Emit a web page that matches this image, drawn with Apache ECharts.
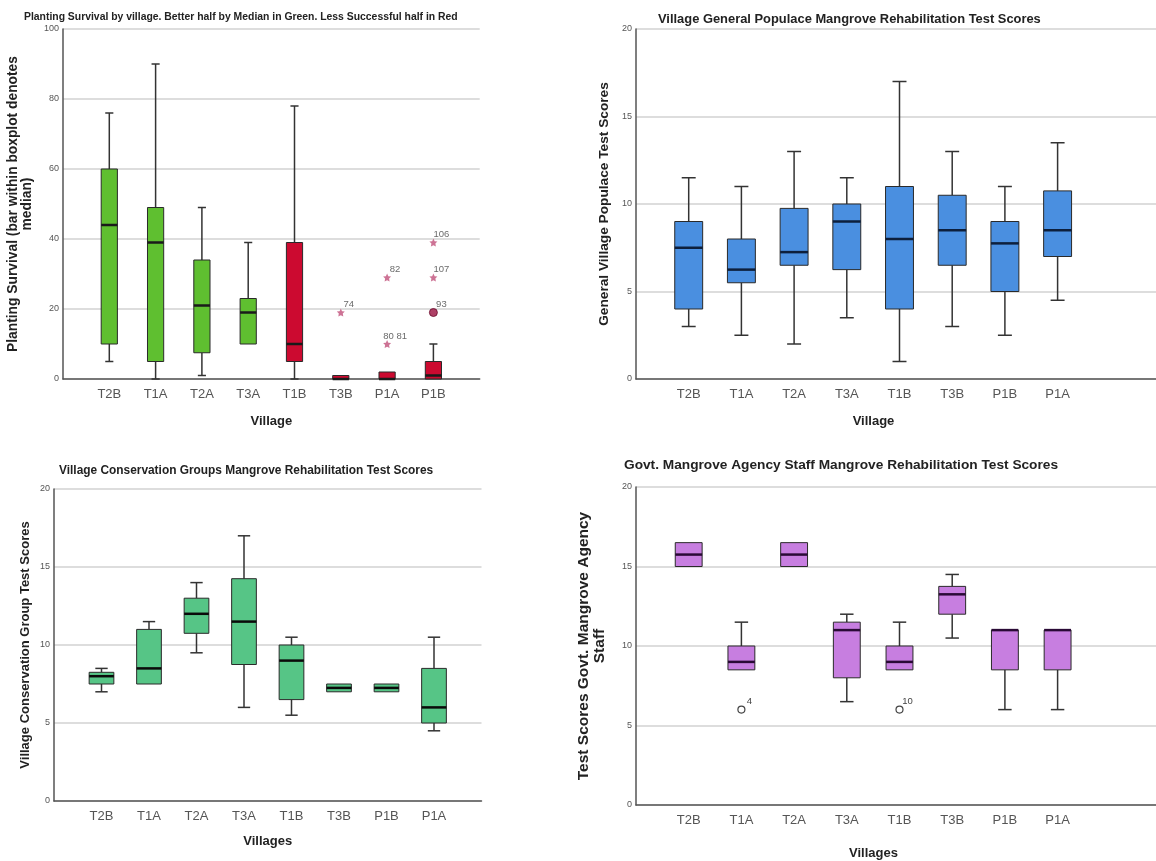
<!DOCTYPE html>
<html>
<head>
<meta charset="utf-8">
<script src="https://cdn.jsdelivr.net/npm/echarts@6/dist/echarts.min.js"></script>
<style>
html,body{margin:0;padding:0;background:#fff;}
#chart{width:1156px;height:861px;}
</style>
</head>
<body>
<div id="chart"></div>
<script>
// ---------- DATA ----------
// Panel 1: Planting survival  [min, Q1, median, Q3, max]
const survivalVillages = ['T2B','T1A','T2A','T3A','T1B','T3B','P1A','P1B'];
const survivalStats = [
  [5, 10, 44, 60, 76],
  [0, 5, 39, 49, 90],
  [1, 7.5, 21, 34, 49],
  [10, 10, 19, 23, 39],
  [0, 5, 10, 39, 78],
  [0, 0, 0, 1, 1],
  [0, 0, 0, 2, 2],
  [0, 0, 1, 5, 10]
];
const survivalHalf = ['better','better','better','better','less','less','less','less'];
// [village, value, case label, marker]
const survivalOutliers = [
  ['T3B', 19, '74', 'star'],
  ['P1A', 29, '82', 'star'],
  ['P1A', 10, '80 81', 'star'],
  ['P1B', 39, '106', 'star'],
  ['P1B', 29, '107', 'star'],
  ['P1B', 19, '93', 'circle']
];
const survivalTicks = [0, 20, 40, 60, 80, 100];

// Panel 2: General populace test scores
const populaceVillages = ['T2B','T1A','T2A','T3A','T1B','T3B','P1B','P1A'];
const populaceStats = [
  [3, 4, 7.5, 9, 11.5],
  [2.5, 5.5, 6.25, 8, 11],
  [2, 6.5, 7.25, 9.75, 13],
  [3.5, 6.25, 9, 10, 11.5],
  [1, 4, 8, 11, 17],
  [3, 6.5, 8.5, 10.5, 13],
  [2.5, 5, 7.75, 9, 11],
  [4.5, 7, 8.5, 10.75, 13.5]
];

// Panel 3: Conservation groups test scores
const groupVillages = ['T2B','T1A','T2A','T3A','T1B','T3B','P1B','P1A'];
const groupStats = [
  [7, 7.5, 8, 8.25, 8.5],
  [7.5, 7.5, 8.5, 11, 11.5],
  [9.5, 10.75, 12, 13, 14],
  [6, 8.75, 11.5, 14.25, 17],
  [5.5, 6.5, 9, 10, 10.5],
  [7, 7, 7.25, 7.5, 7.5],
  [7, 7, 7.25, 7.5, 7.5],
  [4.5, 5, 6, 8.5, 10.5]
];

// Panel 4: Govt. agency staff test scores
const staffVillages = ['T2B','T1A','T2A','T3A','T1B','T3B','P1B','P1A'];
const staffStats = [
  [15, 15, 15.75, 16.5, 16.5],
  [8.5, 8.5, 9, 10, 11.5],
  [15, 15, 15.75, 16.5, 16.5],
  [6.5, 8, 11, 11.5, 12],
  [8.5, 8.5, 9, 10, 11.5],
  [10.5, 12, 13.25, 13.75, 14.5],
  [6, 8.5, 11, 11, 11],
  [6, 8.5, 11, 11, 11]
];
const staffOutliers = [
  ['T1A', 6, '4'],
  ['T1B', 6, '10']
];
const scoreTicks = [0, 5, 10, 15, 20];

// ---------- CHART ----------
const FONT = '"Liberation Sans", Arial, sans-serif';
const STAR = 'path://M0,-10 L2.9,-4 L9.5,-3.1 L4.7,1.5 L5.9,8.1 L0,5 L-5.9,8.1 L-4.7,1.5 L-9.5,-3.1 L-2.9,-4 Z';

function padCats(cats, right) {
  const out = [''];
  cats.forEach(c => out.push(c));
  for (let i = 0; i < right; i++) out.push(' '.repeat(i + 1));
  return out;
}

function boxSeries(gi, stats, colorOf, medianColor, frac) {
  return {
    type: 'custom',
    xAxisIndex: gi, yAxisIndex: gi,
    encode: {x: 0, y: [1, 2, 3, 4, 5]},
    data: stats.map((s, i) => [i + 1].concat(s)),
    renderItem: function (params, api) {
      const x = api.value(0);
      const mn = api.value(1), q1 = api.value(2), md = api.value(3), q3 = api.value(4), mx = api.value(5);
      const band = api.size([1, 0])[0];
      const bw = band * frac, cw = bw / 2;
      const cx = api.coord([x, md])[0];
      const y = v => api.coord([x, v])[1];
      const wStyle = {stroke: '#333', lineWidth: 1.5};
      const ch = [];
      if (mx > q3) {
        ch.push({type: 'line', shape: {x1: cx, y1: y(q3), x2: cx, y2: y(mx)}, style: wStyle});
        ch.push({type: 'line', shape: {x1: cx - cw / 2, y1: y(mx), x2: cx + cw / 2, y2: y(mx)}, style: wStyle});
      }
      if (mn < q1) {
        ch.push({type: 'line', shape: {x1: cx, y1: y(q1), x2: cx, y2: y(mn)}, style: wStyle});
        ch.push({type: 'line', shape: {x1: cx - cw / 2, y1: y(mn), x2: cx + cw / 2, y2: y(mn)}, style: wStyle});
      }
      ch.push({type: 'rect', shape: {x: cx - bw / 2, y: y(q3), width: bw, height: y(q1) - y(q3)},
        style: {fill: colorOf(params.dataIndex), stroke: '#2a2a2a', lineWidth: 1}});
      ch.push({type: 'line', shape: {x1: cx - bw / 2, y1: y(md), x2: cx + bw / 2, y2: y(md)},
        style: {stroke: medianColor, lineWidth: 2.5}});
      return {type: 'group', children: ch};
    }
  };
}

function xAxisCfg(gi, cats, right, maxIdx, nameShift, nameGap) {
  const cfg = {
    type: 'category', gridIndex: gi, data: padCats(cats, right), boundaryGap: false,
    axisLine: {lineStyle: {color: '#555', width: 1.5}},
    axisTick: {show: false},
    axisLabel: {color: '#555', fontSize: 13, fontFamily: FONT, margin: 9, interval: 0},
    splitLine: {show: false},
    name: gi === 0 || gi === 1 ? 'Village' : 'Villages',
    nameLocation: 'middle', nameGap: nameGap,
    nameTextStyle: {color: '#222', fontSize: 13, fontWeight: 'bold', fontFamily: FONT, padding: [0, nameShift, 0, 0]}
  };
  if (maxIdx !== null) { cfg.min = 0; cfg.max = maxIdx; }
  return cfg;
}

function yAxisCfg(gi, ticks, name, gap, fs) {
  return {
    type: 'value', gridIndex: gi, min: ticks[0], max: ticks[ticks.length - 1], interval: ticks[1] - ticks[0],
    axisLine: {show: true, lineStyle: {color: '#555', width: 1.5}},
    axisTick: {show: false},
    axisLabel: {color: '#555', fontSize: 9, fontFamily: FONT, margin: 4},
    splitLine: {lineStyle: {color: '#d2d2d2', width: 1.5}},
    name: name, nameLocation: 'middle', nameGap: gap,
    nameTextStyle: {color: '#222', fontSize: fs, fontWeight: 'bold', fontFamily: FONT, lineHeight: fs + 1}
  };
}

const survivalIdx = v => survivalVillages.indexOf(v) + 1;
const staffIdx = v => staffVillages.indexOf(v) + 1;
const titleStyle = fs => ({fontSize: fs, fontWeight: 'bold', color: '#222', fontFamily: FONT});

const option = {
  backgroundColor: '#fff',
  animation: false,
  title: [
    {text: 'Planting Survival by village. Better half by Median in Green. Less Successful half in Red',
      left: 24, top: 12, padding: 0, textStyle: titleStyle(10.4)},
    {text: 'Village General Populace Mangrove Rehabilitation Test Scores',
      left: 658, top: 13, padding: 0, textStyle: titleStyle(12.9)},
    {text: 'Village Conservation Groups Mangrove Rehabilitation Test Scores',
      left: 59, top: 465, padding: 0, textStyle: titleStyle(11.9)},
    {text: 'Govt. Mangrove Agency Staff Mangrove Rehabilitation Test Scores',
      left: 624, top: 458, padding: 0, textStyle: titleStyle(13.7)}
  ],
  grid: [
    {left: 63, top: 29, width: 9 * 46.3, height: 350, outerBoundsMode: 'none', containLabel: false},
    {left: 636, top: 29, width: 10 * 52.7, height: 350, outerBoundsMode: 'none', containLabel: false},
    {left: 54, top: 489, width: 9 * 47.5, height: 312, outerBoundsMode: 'none', containLabel: false},
    {left: 636, top: 487, width: 10 * 52.7, height: 318, outerBoundsMode: 'none', containLabel: false}
  ],
  xAxis: [
    xAxisCfg(0, survivalVillages, 1, null, 0, 36),
    xAxisCfg(1, populaceVillages, 2, null, 52, 36),
    xAxisCfg(2, groupVillages, 1, null, 0, 34),
    xAxisCfg(3, staffVillages, 2, null, 52, 42)
  ],
  yAxis: [
    yAxisCfg(0, survivalTicks, 'Planting Survival (bar within boxplot denotes\nmedian)', 28, 13.8),
    yAxisCfg(1, scoreTicks, 'General Village Populace Test Scores', 24, 13.7),
    yAxisCfg(2, scoreTicks, 'Village Conservation Group Test Scores', 22, 13),
    yAxisCfg(3, scoreTicks, 'Test Scores Govt. Mangrove Agency\nStaff', 28, 15.5)
  ],
  series: [
    boxSeries(0, survivalStats, i => survivalHalf[i] === 'better' ? '#5fbf30' : '#cc0a30', '#1a1a1a', 0.35),
    boxSeries(1, populaceStats, () => '#4a8fe0', '#0d1f3c', 0.53),
    boxSeries(2, groupStats, () => '#56c586', '#0a0a0a', 0.52),
    boxSeries(3, staffStats, () => '#c77ee0', '#2a0a36', 0.51),
    {
      type: 'scatter', xAxisIndex: 0, yAxisIndex: 0,
      data: survivalOutliers.map(o => ({
        value: [survivalIdx(o[0]), o[1]],
        name: o[2],
        symbol: o[3] === 'star' ? STAR : 'circle',
        symbolSize: 8,
        itemStyle: o[3] === 'star' ? {color: '#c0507a'} : {color: '#9a1040', borderColor: '#6a0a2a', borderWidth: 1}
      })),
      label: {show: true, formatter: p => p.name, position: 'top', distance: 1, offset: [8, 2],
        fontSize: 9.5, color: '#444', fontFamily: FONT}
    },
    {
      type: 'scatter', xAxisIndex: 3, yAxisIndex: 3,
      data: staffOutliers.map(o => ({value: [staffIdx(o[0]), o[1]], name: o[2]})),
      symbol: 'circle', symbolSize: 7,
      itemStyle: {color: '#ffffff', borderColor: '#444444', borderWidth: 1.2, opacity: 1},
      label: {show: true, formatter: p => p.name, position: 'top', distance: 1, offset: [8, 2],
        fontSize: 9.5, color: '#444', fontFamily: FONT}
    }
  ]
};

const chart = echarts.init(document.getElementById('chart'), null, {renderer: 'canvas'});
chart.setOption(option);
</script>
</body>
</html>
